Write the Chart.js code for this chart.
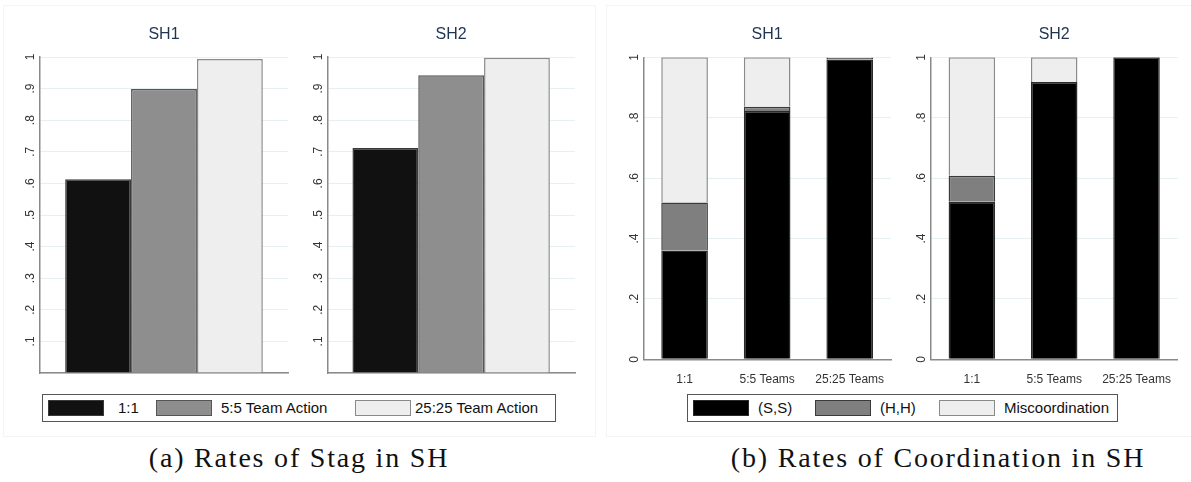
<!DOCTYPE html>
<html>
<head>
<meta charset="utf-8">
<script src="https://cdn.jsdelivr.net/npm/chart.js@4.4.0/dist/chart.umd.min.js"></script>
<style>
  body { margin: 0; background: #fff; }
  #wrap { position: relative; width: 1191px; height: 482px; overflow: hidden; font-family: "Liberation Sans", Arial, sans-serif; }
  canvas { position: absolute; }
  .frame { position: absolute; border: 1px solid #f4f4f4; }
  .legend { position: absolute; border: 1px solid #555; box-sizing: border-box; }
  .sw { position: absolute; width: 56px; height: 16px; box-sizing: border-box; border: 1.5px solid #555; }
  .lt { position: absolute; font-size: 15px; color: #111; line-height: 16px; white-space: nowrap; }
  .cap { position: absolute; font-family: "Liberation Serif", serif; font-size: 28px; letter-spacing: 1.8px; color: #111; white-space: nowrap; transform: translateX(-50%); }
</style>
</head>
<body>
<div id="wrap">
  <div class="frame" style="left:3px;top:5px;width:591px;height:430px"></div>
  <div class="frame" style="left:606px;top:5px;width:584px;height:430px"></div>
  <canvas id="a1" width="300" height="376" style="left:0;top:0"></canvas>
  <canvas id="a2" width="300" height="376" style="left:290px;top:0"></canvas>
  <canvas id="b1" width="300" height="385" style="left:600px;top:0"></canvas>
  <canvas id="b2" width="300" height="385" style="left:890px;top:0"></canvas>
  <div class="cap" style="left:299px;top:442px">(a) Rates of Stag in SH</div>
  <div class="cap" style="left:938px;top:442px">(b) Rates of Coordination in SH</div>
</div>
<script>
// panel (a): rate of stag choices
const stagGroups = ['1:1', '5:5 Team Action', '25:25 Team Action'];
const stagSH1 = [0.613, 0.899, 0.994];
const stagSH2 = [0.712, 0.942, 0.998];
const stagTicks = [0.1, 0.2, 0.3, 0.4, 0.5, 0.6, 0.7, 0.8, 0.9, 1];

// panel (b): coordination outcomes (stacked shares)
const coordCats = ['1:1', '5:5 Teams', '25:25 Teams'];
const coordSeries = ['(S,S)', '(H,H)', 'Miscoordination'];
const ssSH1 = [0.360, 0.822, 0.993];
const hhSH1 = [0.159, 0.014, 0.005];
const misSH1 = [0.481, 0.164, 0.002];
const ssSH2 = [0.522, 0.918, 1.0];
const hhSH2 = [0.086, 0, 0];
const misSH2 = [0.392, 0.082, 0];
const coordTicks = [0, 0.2, 0.4, 0.6, 0.8, 1];

const fillA = ['#111111', '#8e8e8e', '#eeeeee'];
const edgeA = ['#3a3a3a', '#555555', '#8a8a8a'];
const fillB = ['#000000', '#7f7f7f', '#eeeeee'];
const edgeB = ['#2a2a2a', '#3a3a3a', '#8a8a8a'];

function fmt(v) {
  if (v === 0) return '0';
  if (v === 1) return '1';
  return '.' + Math.round(v * 10);
}

// stata-ish title + rotated y labels
const decor = {
  id: 'decor',
  afterDraw(chart) {
    const ctx = chart.ctx, a = chart.chartArea, y = chart.scales.y;
    const o = chart.options.plugins.decor;
    ctx.save();
    ctx.fillStyle = '#1f3352';
    ctx.font = '16px "Liberation Sans", Arial';
    ctx.textAlign = 'center';
    ctx.textBaseline = 'middle';
    ctx.fillText(o.title, (a.left + a.right) / 2, 35);
    ctx.fillStyle = '#333';
    ctx.font = '12px "Liberation Sans", Arial';
    for (const t of o.ticks) {
      const py = y.getPixelForValue(t);
      ctx.save();
      ctx.translate(a.left - o.gap, py);
      ctx.rotate(-Math.PI / 2);
      ctx.fillText(fmt(t), 0, 0);
      ctx.restore();
    }
    ctx.restore();
  }
};

function yScale(ticks, step, width) {
  return {
    min: 0, max: 1,
    ticks: { display: false, stepSize: step },
    grid: { color: '#e6eff1', lineWidth: 1, drawTicks: false },
    border: { display: true, color: '#8a8a8a', width: 1.5 },
    afterFit(s) { s.width = width; }
  };
}

function stagChart(id, title, values, yw, padR) {
  new Chart(document.getElementById(id), {
    type: 'bar',
    data: {
      labels: [''],
      datasets: stagGroups.map((g, i) => ({
        label: g,
        data: [values[i]],
        backgroundColor: fillA[i],
        borderColor: edgeA[i],
        borderWidth: 1.5,
        categoryPercentage: 0.797,
        barPercentage: 1
      }))
    },
    options: {
      responsive: false,
      animation: false,
      layout: { padding: { top: 57, right: padR, bottom: 3, left: 0 } },
      plugins: { legend: { display: false }, tooltip: { enabled: false }, decor: { title: title, ticks: stagTicks, gap: 9 } },
      scales: {
        x: {
          ticks: { display: false },
          grid: { display: false },
          border: { display: true, color: '#8a8a8a', width: 1.5 },
          afterFit(s) { s.height = 0; }
        },
        y: yScale(stagTicks, 0.1, yw)
      }
    },
    plugins: [decor]
  });
}

function coordChart(id, title, ss, hh, mis, yw, padR) {
  const vals = [ss, hh, mis];
  new Chart(document.getElementById(id), {
    type: 'bar',
    data: {
      labels: coordCats,
      datasets: coordSeries.map((s, i) => ({
        label: s,
        data: vals[i],
        backgroundColor: fillB[i],
        borderColor: edgeB[i],
        borderWidth: 1.5,
        categoryPercentage: 1,
        barPercentage: 0.565
      }))
    },
    options: {
      responsive: false,
      animation: false,
      layout: { padding: { top: 57.3, right: padR, bottom: 0, left: 0 } },
      plugins: { legend: { display: false }, tooltip: { enabled: false }, decor: { title: title, ticks: coordTicks, gap: 9 } },
      scales: {
        x: {
          stacked: true,
          ticks: { color: '#333', font: { size: 12, family: '"Liberation Sans", Arial' }, padding: 5, maxRotation: 0 },
          grid: { display: false },
          border: { display: true, color: '#8a8a8a', width: 1.5 },
          afterFit(s) { s.height = 25.7; }
        },
        y: Object.assign(yScale(coordTicks, 0.2, yw), { stacked: true })
      }
    },
    plugins: [decor]
  });
}

stagChart('a1', 'SH1', stagSH1, 40, 12);
stagChart('a2', 'SH2', stagSH2, 37.3, 15);
coordChart('b1', 'SH1', ssSH1, hhSH1, misSH1, 43.3, 9);
coordChart('b2', 'SH2', ssSH2, hhSH2, misSH2, 40.7, 12.3);

// legends drawn as plain html boxes under each pair of panels
function legend(box, items) {
  const wrap = document.getElementById('wrap');
  const b = document.createElement('div');
  b.className = 'legend';
  Object.assign(b.style, { left: box[0] + 'px', top: box[1] + 'px', width: box[2] + 'px', height: box[3] + 'px' });
  wrap.appendChild(b);
  for (const it of items) {
    const s = document.createElement('div');
    s.className = 'sw';
    Object.assign(s.style, { left: it.x + 'px', top: '400px', background: it.fill, borderColor: it.edge });
    wrap.appendChild(s);
    const t = document.createElement('div');
    t.className = 'lt';
    t.textContent = it.text;
    Object.assign(t.style, { left: it.tx + 'px', top: '400px' });
    wrap.appendChild(t);
  }
}
legend([42, 394, 514, 28], [
  { x: 48, tx: 118, text: stagGroups[0], fill: fillA[0], edge: edgeA[0] },
  { x: 156, tx: 221, text: stagGroups[1], fill: fillA[1], edge: edgeA[1] },
  { x: 355, tx: 415, text: stagGroups[2], fill: fillA[2], edge: edgeA[2] }
]);
legend([687, 394, 431, 28], [
  { x: 693, tx: 758, text: coordSeries[0], fill: fillB[0], edge: edgeB[0] },
  { x: 815, tx: 880, text: coordSeries[1], fill: fillB[1], edge: edgeB[1] },
  { x: 939, tx: 1004, text: coordSeries[2], fill: fillB[2], edge: edgeB[2] }
]);
</script>
</body>
</html>
